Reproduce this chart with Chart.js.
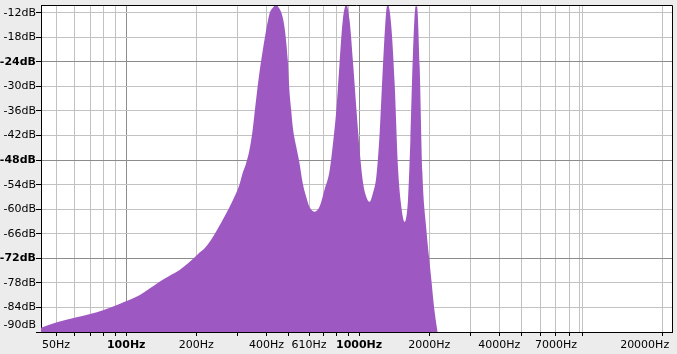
<!DOCTYPE html>
<html>
<head>
<meta charset="utf-8">
<script src="https://cdn.jsdelivr.net/npm/chart.js@4/dist/chart.umd.min.js"></script>
<style>
  body { margin: 0; background: #ececec; }
  canvas { display: block; }
</style>
</head>
<body>
<canvas id="spectrum" width="677" height="354"></canvas>
<script>
// spectrum (frequency in Hz, level in dB)
const freqHz = [43, 50, 60, 70, 80, 93, 103, 114, 126, 139, 153, 169, 187, 203, 220, 243, 269, 287,
  306, 316, 327, 338, 349, 361, 373, 386, 399, 412, 426, 440, 452, 463, 478, 494, 502, 511, 519, 537,
  555, 573, 593, 612, 643, 676, 710, 746, 771, 798, 824, 851, 881, 910, 940, 972, 1005, 1038, 1074,
  1109, 1146, 1185, 1225, 1265, 1309, 1330, 1375, 1421, 1468, 1518, 1569, 1621, 1660, 1703, 1749,
  1772, 1820, 1869, 1945, 1996, 2043, 2097, 2160, 2200, 22050];
const levelDb = [-89.0, -87.7, -86.5, -85.6, -84.6, -83.2, -82.2, -81.0, -79.4, -77.7, -76.3, -74.9, -72.9, -71.0, -69.2, -65.5, -61.0, -57.8,
  -54.1, -51.2, -48.8, -45.6, -40.7, -33.3, -26.8, -21.1, -16.2, -12.3, -10.8, -10.0, -10.8, -11.9, -15.4, -23.6, -30.9, -35.8, -39.9, -44.7,
  -48.8, -53.7, -57.0, -59.4, -60.6, -59.4, -55.3, -50.8, -44.3, -35.8, -24.4, -13.8, -10.0, -13.8, -23.6, -35.0, -45.6, -53.3, -57.0,
  -58.2, -56.1, -52.1, -41.5, -25.2, -11.3, -10.0, -15.4, -29.3, -49.6, -59.4, -63.1, -57.8, -43.1, -21.9, -10.4,
  -10.4, -25.2, -51.0, -65.1, -71.6, -77.3, -83.8, -89.1, -92.0, -120.0];

// axis ticks
const xGrid = [50, 60, 70, 80, 90, 100, 200, 300, 400, 500, 610, 700, 800, 900, 1000,
  2000, 3000, 4000, 5000, 6000, 7000, 8000, 8800, 9100, 20000];
const xLabels = [50, 100, 200, 400, 610, 1000, 2000, 4000, 7000, 20000];
const xBold = [100, 1000];
const xNoTick = [8800];
const yTicks = [-12, -18, -24, -30, -36, -42, -48, -54, -60, -66, -72, -78, -84, -90];
const yBold = [-24, -48, -72];

const purple = "rgb(158, 88, 194)";
const minorGrid = "#c2c2c2";
const majorGrid = "#8c8c8c";

Chart.defaults.font.family = "'DejaVu Sans', sans-serif";
Chart.defaults.font.size = 11;
Chart.defaults.color = "#000";

const panel = {
  id: "panel",
  beforeDraw(chart) {
    const ctx = chart.ctx;
    const a = chart.chartArea;
    ctx.save();
    ctx.fillStyle = "#ececec";
    ctx.fillRect(0, 0, chart.width, chart.height);
    ctx.fillStyle = "#fff";
    ctx.fillRect(a.left, a.top, a.right - a.left, a.bottom - a.top);
    ctx.restore();
  },
  afterDraw(chart) {
    const ctx = chart.ctx;
    const a = chart.chartArea;
    ctx.save();
    ctx.strokeStyle = "#000";
    ctx.lineWidth = 1;
    ctx.beginPath();
    ctx.moveTo(Math.round(a.left), Math.round(a.top) + 0.5);
    ctx.lineTo(Math.round(a.right) + 0.5, Math.round(a.top) + 0.5);
    ctx.lineTo(Math.round(a.right) + 0.5, Math.round(a.bottom));
    ctx.stroke();
    ctx.restore();
  }
};

const points = freqHz.map((f, i) => ({ x: f, y: levelDb[i] }));

new Chart(document.getElementById("spectrum"), {
  type: "line",
  data: {
    datasets: [{
      data: points,
      borderColor: purple,
      borderWidth: 0,
      backgroundColor: purple,
      fill: "start",
      pointRadius: 0,
      cubicInterpolationMode: "monotone"
    }]
  },
  options: {
    responsive: false,
    animation: false,
    layout: { padding: { top: 5, right: 5, left: 0, bottom: 0 } },
    plugins: { legend: { display: false }, tooltip: { enabled: false } },
    scales: {
      x: {
        type: "logarithmic",
        min: 43.07,
        max: 22050,
        bounds: "data",
        z: 1,
        afterBuildTicks: (scale) => { scale.ticks = xGrid.map(v => ({ value: v })); },
        afterFit: (scale) => { scale.height = 22; scale.paddingLeft = 0; scale.paddingRight = 0; },
        border: { color: "#000" },
        grid: {
          color: (c) => xBold.includes(c.tick && c.tick.value) ? majorGrid : minorGrid,
          tickColor: (c) => xNoTick.includes(c.tick && c.tick.value) ? "rgba(0,0,0,0)" : "#000",
          tickLength: 4
        },
        ticks: {
          autoSkip: false,
          maxRotation: 0,
          padding: 3,
          font: (c) => ({ weight: xBold.includes(c.tick && c.tick.value) ? "bold" : "normal" }),
          callback: (v) => {
            if (!xLabels.includes(v)) return "";
            if (v === 20000) return v + "Hz          ";
            return v + "Hz";
          }
        }
      },
      y: {
        min: -90,
        max: -10.1,
        z: 1,
        afterBuildTicks: (scale) => { scale.ticks = yTicks.map(v => ({ value: v })); },
        afterFit: (scale) => { scale.width = 41; scale.paddingTop = 0; scale.paddingBottom = 0; },
        border: { color: "#000" },
        grid: {
          color: (c) => yBold.includes(c.tick && c.tick.value) ? majorGrid : minorGrid,
          tickColor: "#000",
          tickLength: 5
        },
        ticks: {
          autoSkip: false,
          padding: 0,
          font: (c) => ({ weight: yBold.includes(c.tick && c.tick.value) ? "bold" : "normal" }),
          callback: (v) => v === -90 ? ["-90dB", ""] : v + "dB"
        }
      }
    }
  },
  plugins: [panel]
});
</script>
</body>
</html>
